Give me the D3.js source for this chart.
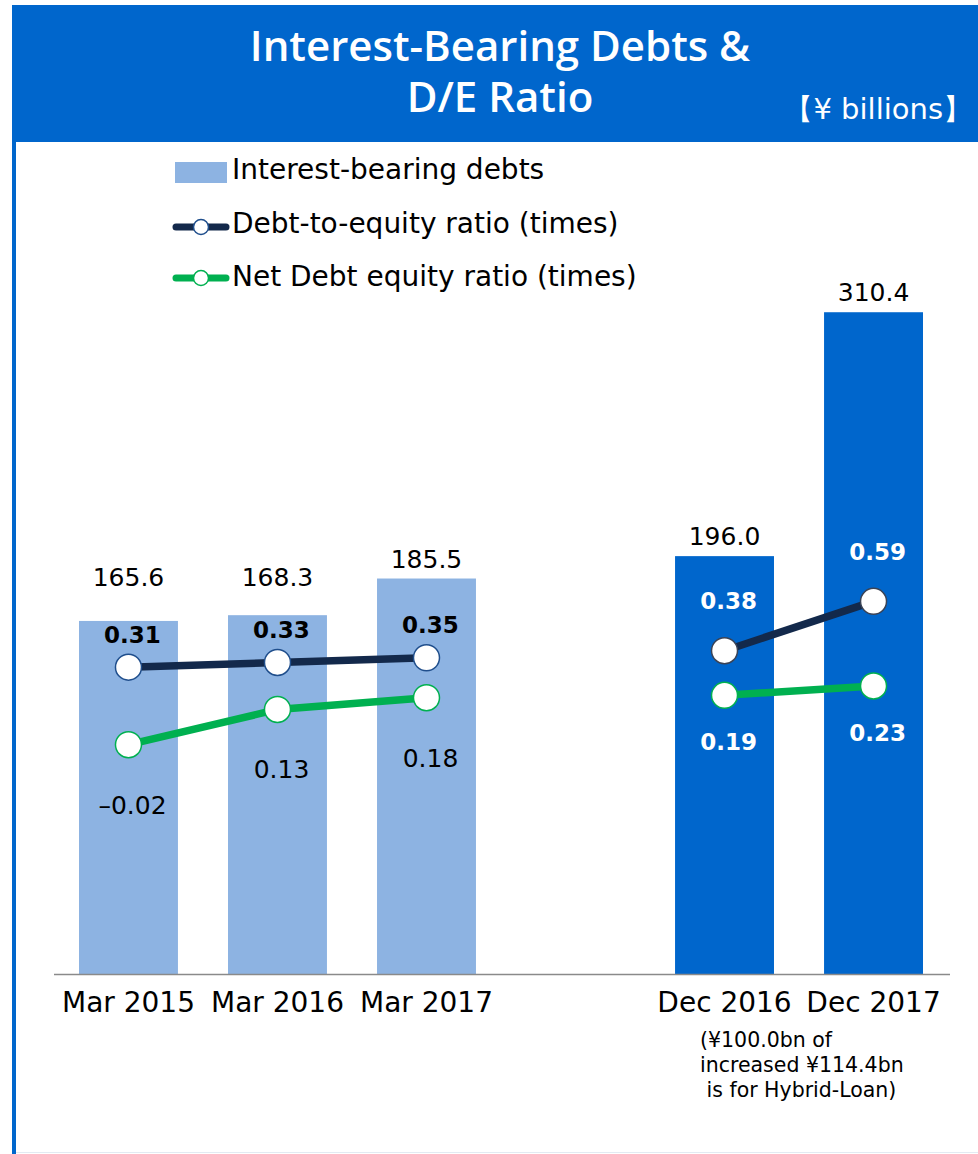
<!DOCTYPE html>
<html>
<head>
<meta charset="utf-8">
<style>
body { margin: 0; background: #fff; }
text { font-family: "DejaVu Sans", sans-serif; }
</style>
</head>
<body>
<svg id="chart" width="978" height="1154"></svg>
<script src="https://d3js.org/d3.v7.min.js"></script>
<script>
// data
var categories = ["Mar 2015", "Mar 2016", "Mar 2017", "gap", "Dec 2016", "Dec 2017"]
var groups = ["mar", "mar", "mar", null, "dec", "dec"]
var debts = [165.6, 168.3, 185.5, null, 196.0, 310.4]
var deRatio = [0.31, 0.33, 0.35, null, 0.38, 0.59]
var netRatio = [-0.02, 0.13, 0.18, null, 0.19, 0.23]
var titleLines = ["Interest-Bearing Debts &", "D/E Ratio"]
var noteLines = ["(¥100.0bn of", "increased ¥114.4bn", " is for Hybrid-Loan)"]

var rows = categories.map(function(c, i) {
	return {cat: c, group: groups[i], debt: debts[i], de: deRatio[i], net: netRatio[i]}
})

var svg = d3.select('#chart')
var blue = '#0066cc', lightBlue = '#8db3e2', navy = '#13294b', green = '#00b050'

// frame + header
svg.append('rect').attr('x', 12).attr('y', 5).attr('width', 966).attr('height', 137).attr('fill', blue)
svg.append('rect').attr('x', 12).attr('y', 5).attr('width', 4).attr('height', 1149).attr('fill', blue)
svg.append('line').attr('x1', 16).attr('x2', 978).attr('y1', 1152.5).attr('y2', 1152.5).attr('stroke', '#e3eaf2')

var title = svg.append('text').attr('text-anchor', 'middle')
	.attr('fill', '#fff').attr('font-size', 42).attr('font-weight', 600)
	.style('font-family', '"Open Sans", sans-serif')
title.selectAll('tspan').data(titleLines).join('tspan')
	.attr('x', 500).attr('y', function(d, i) { return 61 + i * 51 })
	.text(function(d) { return d })
svg.append('text').attr('x', 972).attr('y', 119).attr('text-anchor', 'end')
	.attr('fill', '#fff').attr('font-size', 29).text('【¥ billions】')

// scales
var x = d3.scaleBand().domain(categories).range([79, 923]).paddingInner(0.336).paddingOuter(0)
var y = d3.scaleLinear().domain([0, 350]).range([974, 227.8])
var y2 = d3.scaleLinear().domain([-1, 2]).range([975, 270])
var cx = function(d) { return x(d.cat) + x.bandwidth() / 2 }

var data = rows.filter(function(d) { return d.debt != null })

// bars
svg.append('g').selectAll('rect').data(data).join('rect')
	.attr('x', function(d) { return x(d.cat) })
	.attr('width', x.bandwidth())
	.attr('y', function(d) { return y(d.debt) })
	.attr('height', function(d) { return y(0) - y(d.debt) })
	.attr('fill', function(d) { return d.group == 'mar' ? lightBlue : blue })

// baseline axis
var xAxis = svg.append('g').attr('transform', 'translate(0,' + y(0) + ')')
	.call(d3.axisBottom(x).tickSize(0).tickFormat(function(d) { return d == 'gap' ? '' : d }))
xAxis.select('.domain').attr('d', 'M54,0.5H950').attr('stroke', '#8a8a8a').attr('stroke-width', 1.5)
xAxis.selectAll('text').attr('dy', 0).attr('y', 38).attr('font-size', 28).attr('fill', '#000')
	.style('font-family', '"DejaVu Sans", sans-serif')

// bar value labels
svg.append('g').selectAll('text').data(data).join('text')
	.attr('x', cx)
	.attr('y', function(d) { return Math.min(y(d.debt) - 20, 577) + 9 })
	.attr('text-anchor', 'middle').attr('font-size', 25).attr('fill', '#000')
	.text(function(d) { return d.debt.toFixed(1) })

// ratio lines
function drawSeries(key, color, ringMar, ringDec) {
	var line = d3.line().defined(function(d) { return d[key] != null })
		.x(cx).y(function(d) { return y2(d[key]) })
	svg.append('path').datum(rows).attr('d', line)
		.attr('fill', 'none').attr('stroke', color).attr('stroke-width', 7.5)
	svg.append('g').selectAll('circle').data(data).join('circle')
		.attr('cx', cx).attr('cy', function(d) { return y2(d[key]) }).attr('r', 13)
		.attr('fill', '#fff')
		.attr('stroke', function(d) { return d.group == 'mar' ? ringMar : ringDec })
		.attr('stroke-width', 1.5)
}
drawSeries('de', navy, '#1f4e8c', '#3a4356')
drawSeries('net', green, green, green)

// ratio labels
svg.append('g').selectAll('text').data(data).join('text')
	.attr('x', function(d) { return cx(d) + 4 })
	.attr('y', function(d) { return y2(d.de) + (d.group == 'mar' ? -33 : -50) + 8.5 })
	.attr('text-anchor', 'middle').attr('font-size', 23).attr('font-weight', 'bold')
	.attr('fill', function(d) { return d.group == 'mar' ? '#000' : '#fff' })
	.text(function(d) { return d.de.toFixed(2) })
svg.append('g').selectAll('text').data(data).join('text')
	.attr('x', function(d) { return cx(d) + 4 })
	.attr('y', function(d) { return y2(d.net) + (d.group == 'mar' ? 60 : 46) + 9 })
	.attr('text-anchor', 'middle')
	.attr('font-size', function(d) { return d.group == 'mar' ? 25 : 23 })
	.attr('font-weight', function(d) { return d.group == 'mar' ? 'normal' : 'bold' })
	.attr('fill', function(d) { return d.group == 'mar' ? '#000' : '#fff' })
	.text(function(d) { return d.net.toFixed(2).replace('-', '–') })

// note under Dec bars
svg.append('g').selectAll('text').data(noteLines).join('text')
	.attr('x', 700).attr('y', function(d, i) { return 1047 + i * 25 })
	.attr('font-size', 20.5).attr('fill', '#000')
	.style('white-space', 'pre')
	.text(function(d) { return d })

// legend
var legend = svg.append('g')
legend.append('rect').attr('x', 175).attr('y', 162).attr('width', 52).attr('height', 21).attr('fill', lightBlue)
var legendItems = [
	{label: 'Interest-bearing debts', y: 179},
	{label: 'Debt-to-equity ratio (times)', y: 233, mark: 227, color: navy, ring: '#1f4e8c'},
	{label: 'Net Debt equity ratio (times)', y: 286, mark: 278, color: green, ring: green}
]
legendItems.forEach(function(it) {
	if (it.color) {
		legend.append('line').attr('x1', 176).attr('x2', 226).attr('y1', it.mark).attr('y2', it.mark)
			.attr('stroke', it.color).attr('stroke-width', 7).attr('stroke-linecap', 'round')
		legend.append('circle').attr('cx', 201).attr('cy', it.mark).attr('r', 7.5)
			.attr('fill', '#fff').attr('stroke', it.ring).attr('stroke-width', 1.5)
	}
	legend.append('text').attr('x', 232).attr('y', it.y).attr('font-size', 28).attr('fill', '#000')
		.text(it.label)
})
</script>
</body>
</html>
